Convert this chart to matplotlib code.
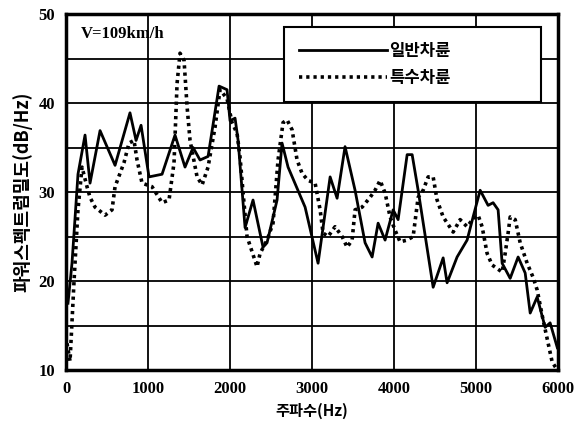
import matplotlib
matplotlib.use("Agg")
import matplotlib.pyplot as plt

# ====== dados ======
freq_normal = [24, 73, 146, 232, 293, 415, 598, 780, 854, 915, 1012, 1171, 1329,
               1451, 1549, 1634, 1732, 1866, 1963, 2000, 2061, 2098, 2183, 2280,
               2402, 2451, 2573, 2634, 2707, 2878, 2915, 3073, 3220, 3305, 3402,
               3524, 3646, 3732, 3805, 3890, 3988, 4049, 4159, 4220, 4293, 4476,
               4598, 4646, 4768, 4890, 4963, 5049, 5146, 5207, 5268, 5317, 5415,
               5512, 5598, 5659, 5744, 5841, 5902, 5990]
psd_normal = [17.5, 22, 32, 36.4, 31, 36.9, 33, 38.9, 35.8, 37.5, 31.7, 32, 36.4,
              32.8, 35, 33.6, 34, 41.9, 41.5, 38, 38.3, 35.8, 26, 29.1,
              23.8, 24.3, 29.1, 35.5, 32.8, 29.1, 28.3, 22, 31.7, 29.3, 35.1,
              30.2, 24.3, 22.7, 26.5, 24.6, 28, 26.9, 34.2, 34.2, 30.2, 19.3,
              22.6, 19.8, 22.7, 24.6, 27.2, 30.2, 28.5, 28.8, 28, 22, 20.3,
              22.7, 20.9, 16.4, 18.2, 14.8, 15.3, 12.5]

freq_special = [12, 49, 98, 146, 195, 256, 293, 354, 476, 561, 598, 707, 768, 829,
                866, 927, 1049, 1171, 1256, 1317, 1354, 1390, 1439, 1476, 1512,
                1598, 1659, 1732, 1817, 1878, 1963, 2024, 2085, 2122, 2159, 2207,
                2329, 2366, 2451, 2524, 2585, 2646, 2695, 2756, 2817, 2878, 2951,
                3037, 3098, 3134, 3195, 3280, 3366, 3427, 3488, 3524, 3610, 3707,
                3768, 3829, 3890, 3951, 4012, 4073, 4159, 4232, 4293, 4354, 4415,
                4476, 4524, 4598, 4720, 4805, 4890, 4963, 5024, 5073, 5134, 5195,
                5317, 5354, 5390, 5415, 5476, 5537, 5622, 5695, 5744, 5817, 5878,
                5927, 5976]
psd_special = [13, 11, 20, 28, 32.8, 30.6, 29.4, 28.3, 27.4, 28, 30.6, 33.3, 35.5,
               35.8, 33.6, 31, 30.6, 28.8, 29.1, 33.3, 42.2, 45.6, 44.8, 39.6,
               35.8, 31.7, 30.8, 32.8, 37.3, 41.5, 40.5, 37.8, 36.6, 33.9, 29.9,
               25, 21.6, 23.1, 24.6, 26.5, 33.6, 37.8, 38.1, 37, 33.6, 32.1, 31.3,
               31, 28, 25.4, 25, 26.1, 25, 23.8, 24.6, 28, 28.3, 29.4, 30.2, 31.3,
               29.9, 27.2, 25.7, 24.4, 24.6, 25, 29.4, 30.2, 31.7, 31.7, 29.1, 27.2,
               25.5, 26.9, 26.1, 27, 27.4, 26.1, 23.1, 21.8, 21, 23.1, 25.4, 27.2,
               26.9, 24.3, 22, 20.4, 19, 15.6, 13, 10.9, 10.2]

x_ticks = [0, 1000, 2000, 3000, 4000, 5000, 6000]
y_ticks = [10, 20, 30, 40, 50]
labels = ["일반차륜", "특수차륜"]

# ====== fontes ======
kr = ["Noto Sans CJK KR", "DejaVu Sans"]
num = ["Liberation Serif", "DejaVu Serif"]

fig = plt.figure(figsize=(5.79, 4.32), dpi=100)
ax = fig.add_axes([0.114, 0.1435, 0.850, 0.824])

ax.plot(freq_normal, psd_normal, color="black", lw=2.0, label=labels[0])
ax.plot(freq_special, psd_special, color="black", lw=2.6,
        linestyle=(0, (0.9, 1.1)), label=labels[1])

ax.set_xlim(0, 6000)
ax.set_ylim(10, 50)
ax.set_xticks(x_ticks)
ax.set_yticks(y_ticks)
ax.set_yticks([15, 25, 35, 45], minor=True)
ax.grid(True, which="both", color="black", lw=1.3)
ax.set_axisbelow(True)
ax.tick_params(which="both", length=0, pad=8)
for lab in ax.get_xticklabels() + ax.get_yticklabels():
    lab.set_family(num)
    lab.set_fontweight("bold")
    lab.set_fontsize(12)
for s in ax.spines.values():
    s.set_linewidth(2.5)

ax.set_xlabel("주파수(Hz)", family=kr, fontweight="bold", fontsize=11, labelpad=4)
ax.set_ylabel("파워스펙트럼밀도(dB/Hz)", family=kr, fontweight="bold", fontsize=13,
              labelpad=4)

ax.text(0.03, 0.965, "V=109km/h", transform=ax.transAxes, ha="left", va="top",
        family=num, fontweight="bold", fontsize=12)

# legenda larga, como no original
leg = ax.legend(loc="upper left", bbox_to_anchor=(0.443, 0.963, 0.522, 0.0),
                mode="expand", prop={"family": kr, "weight": "bold", "size": 12},
                handlelength=5.3, handletextpad=0.1, borderpad=0.9,
                labelspacing=0.5, fancybox=False, framealpha=1,
                borderaxespad=0)
leg.get_frame().set_edgecolor("black")
leg.get_frame().set_linewidth(1.5)
leg._legend_box.align = "left"

fig.savefig("out.png", dpi=100)
